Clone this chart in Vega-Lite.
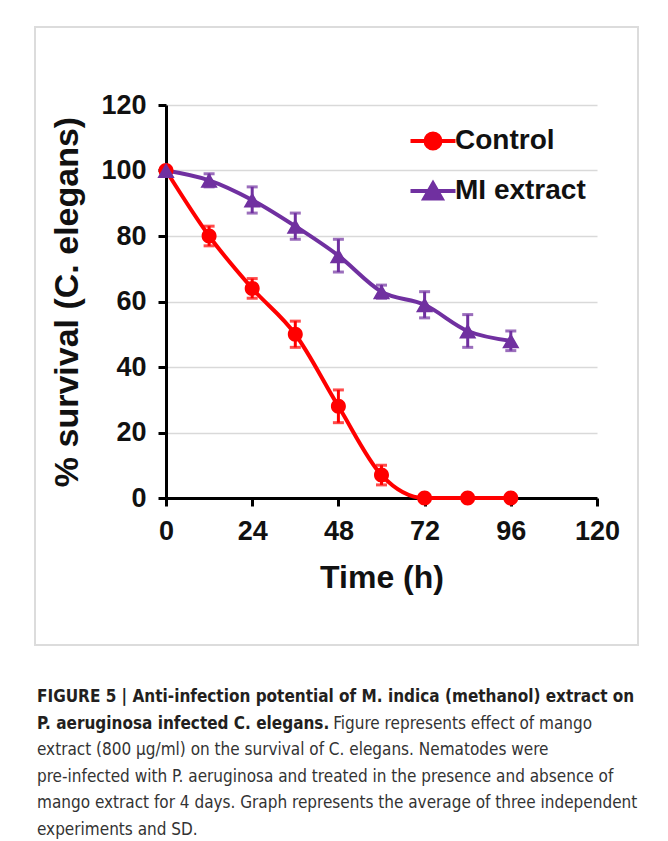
{
  "$schema": "https://vega.github.io/schema/vega-lite/v6.json",
  "width": 431,
  "height": 393,
  "autosize": {"type": "none"},
  "padding": {"left": 166, "top": 105, "right": 71, "bottom": 343},
  "background": "white",
  "config": {
    "view": {"stroke": null},
    "font": "Liberation Sans",
    "axis": {
      "labelFont": "Liberation Sans", "labelFontWeight": "bold", "labelFontSize": 27, "labelColor": "#111",
      "titleFont": "Liberation Sans", "titleFontWeight": "bold", "titleFontSize": 32, "titleColor": "#111",
      "domainColor": "#000", "domainWidth": 3, "tickColor": "#000", "tickWidth": 3, "tickSize": 8,
      "gridColor": "#d9d9d9", "gridWidth": 1.5
    },
    "legend": {
      "labelFont": "Liberation Sans", "labelFontWeight": "bold", "labelFontSize": 28, "labelColor": "#111",
      "symbolSize": 225, "symbolStrokeWidth": 4, "rowPadding": 18, "labelOffset": 8
    }
  },
  "title": {
    "text": ["FIGURE 5 | Anti-infection potential of M. indica (methanol) extract on", "P. aeruginosa infected C. elegans."],
    "subtitle": [
      "\u200b\u00a0\u00a0\u00a0\u00a0\u00a0\u00a0\u00a0\u00a0\u00a0\u00a0\u00a0\u00a0\u00a0\u00a0\u00a0\u00a0\u00a0\u00a0\u00a0\u00a0\u00a0\u00a0\u00a0\u00a0\u00a0\u00a0\u00a0\u00a0\u00a0\u00a0\u00a0\u00a0\u00a0\u00a0\u00a0\u00a0\u00a0\u00a0\u00a0\u00a0\u00a0\u00a0\u00a0\u00a0\u00a0\u00a0\u00a0\u00a0\u00a0\u00a0\u00a0\u00a0\u00a0\u00a0\u00a0\u00a0\u00a0\u00a0\u00a0\u00a0\u00a0Figure represents effect of mango",
      "extract (800 µg/ml) on the survival of C. elegans. Nematodes were",
      "pre-infected with P. aeruginosa and treated in the presence and absence of",
      "mango extract for 4 days. Graph represents the average of three independent",
      "experiments and SD."
    ],
    "orient": "bottom", "anchor": "start", "frame": "group", "dx": -129, "offset": 43,
    "font": "DejaVu Sans Condensed", "fontSize": 17, "fontWeight": "bold", "color": "#231f20", "lineHeight": 26.6,
    "subtitleFont": "DejaVu Sans Condensed", "subtitleFontSize": 17, "subtitleFontWeight": "normal", "subtitleColor": "#333", "subtitleLineHeight": 26.6, "subtitlePadding": -17
  },
  "datasets": {
    "survival": [
      {"series": "Control", "time": 0, "survival": 100, "sd": 0},
      {"series": "Control", "time": 12, "survival": 80, "sd": 3},
      {"series": "Control", "time": 24, "survival": 64, "sd": 3},
      {"series": "Control", "time": 36, "survival": 50, "sd": 4},
      {"series": "Control", "time": 48, "survival": 28, "sd": 5},
      {"series": "Control", "time": 60, "survival": 7, "sd": 3},
      {"series": "Control", "time": 72, "survival": 0, "sd": 0},
      {"series": "Control", "time": 84, "survival": 0, "sd": 0},
      {"series": "Control", "time": 96, "survival": 0, "sd": 0},
      {"series": "MI extract", "time": 0, "survival": 100, "sd": 0},
      {"series": "MI extract", "time": 12, "survival": 97, "sd": 2},
      {"series": "MI extract", "time": 24, "survival": 91, "sd": 4},
      {"series": "MI extract", "time": 36, "survival": 83, "sd": 4},
      {"series": "MI extract", "time": 48, "survival": 74, "sd": 5},
      {"series": "MI extract", "time": 60, "survival": 63, "sd": 2},
      {"series": "MI extract", "time": 72, "survival": 59, "sd": 4},
      {"series": "MI extract", "time": 84, "survival": 51, "sd": 5},
      {"series": "MI extract", "time": 96, "survival": 48, "sd": 3}
    ]
  },
  "layer": [
    {
      "data": {"values": [{}]},
      "mark": {"type": "rect", "x": -131, "y": -78, "x2": 472, "y2": 540, "fill": null, "stroke": "#dcdcdc", "strokeWidth": 2},
      "encoding": {}
    },
    {
      "data": {"values": [{}]},
      "mark": {"type": "rule", "x": -155, "y": -97, "x2": 510, "y2": -97, "stroke": "#333", "strokeWidth": 1.5},
      "encoding": {}
    },
    {
      "data": {"values": [{}]},
      "mark": {"type": "rule", "x": -155, "y": -97, "x2": -155, "y2": 740, "stroke": "#333", "strokeWidth": 1.5},
      "encoding": {}
    },
    {
      "data": {"name": "survival"},
      "encoding": {
        "x": {"field": "time", "type": "quantitative",
              "scale": {"domain": [0, 120], "nice": false},
              "axis": {"values": [0, 24, 48, 72, 96, 120], "grid": false, "title": "Time (h)", "labelPadding": 12, "titlePadding": 18, "labelFlush": false}},
        "y": {"field": "survival", "type": "quantitative",
              "scale": {"domain": [0, 120], "nice": false},
              "axis": {"values": [0, 20, 40, 60, 80, 100, 120], "grid": true, "title": "% survival (C. elegans)", "titleFontSize": 34, "labelPadding": 12, "titlePadding": 16, "labelFlush": false}},
        "color": {"field": "series", "type": "nominal",
                  "scale": {"domain": ["Control", "MI extract"], "range": ["#ff0000", "#7030a0"]},
                  "legend": {"orient": "none", "legendX": 253, "legendY": 22, "title": null,
                             "encode": {"symbols": {"update": {"stroke": {"scale": "color", "field": "value"}, "strokeWidth": {"value": 4}}}}}}
      },
      "layer": [
        {
          "transform": [{"filter": "datum.sd > 0"}],
          "mark": {"type": "errorbar", "thickness": 3, "ticks": {"size": 11, "thickness": 3}},
          "encoding": {"yError": {"field": "sd"}}
        },
        {
          "mark": {"type": "line", "strokeWidth": 4, "interpolate": "monotone"}
        },
        {
          "mark": {"type": "point", "filled": true, "opacity": 1, "size": 225},
          "encoding": {
            "shape": {"field": "series", "type": "nominal",
                      "scale": {"domain": ["Control", "MI extract"],
                                "range": ["M-3,0H3M-1,0A1,1,0,1,0,1,0A1,1,0,1,0,-1,0Z", "M-3,0H3M0,-1L1.15,1L-1.15,1Z"]},
                      "legend": {"orient": "none", "legendX": 253, "legendY": 22, "title": null,
                                 "encode": {"symbols": {"update": {"stroke": {"scale": "color", "field": "value"}, "strokeWidth": {"value": 4}}}}}}
          }
        }
      ]
    }
  ]
}
